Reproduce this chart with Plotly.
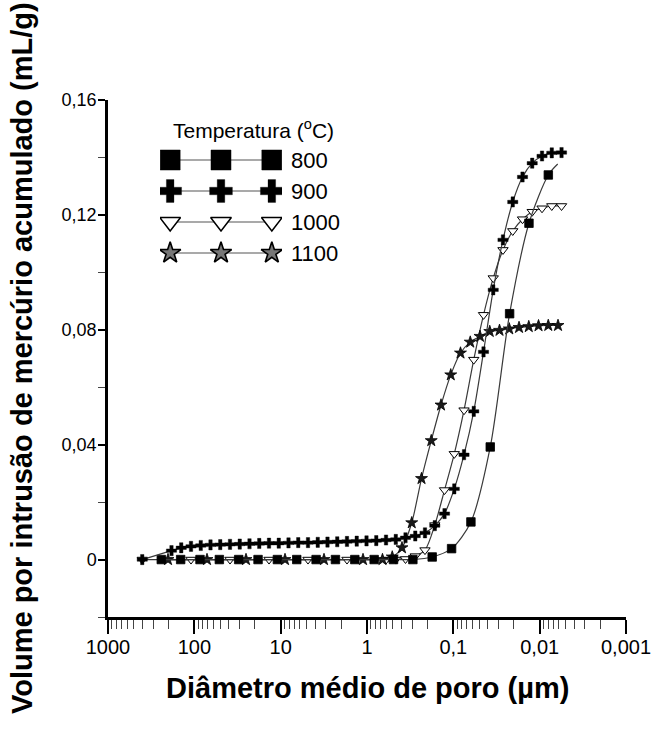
import plotly.graph_objects as go

# ---- data: mean pore diameter (µm) vs cumulative mercury intrusion volume (mL/g)
d800 = [241.4, 144.0, 85.97, 51.31, 30.62, 18.28, 10.91, 6.511, 3.886, 2.320, 1.384,
        0.8262, 0.4931, 0.2943, 0.1757, 0.1048, 0.06257, 0.03735, 0.02229, 0.01330,
        0.00794, 0.00618]
v800 = [0, 0, 0, 0, 0, 0, 0, 0, 0, 0, 0, 0, 0, 0, 0.0009, 0.0038, 0.0131, 0.0392,
        0.0856, 0.1171, 0.1339, 0.1377]

d900 = [401.1, 183.9, 141.8, 109.3, 84.27, 64.98, 50.10, 38.62, 29.78, 22.96, 17.70,
        13.65, 10.52, 8.113, 6.256, 4.824, 3.719, 2.868, 2.211, 1.705, 1.315, 1.013,
        0.781, 0.602, 0.464, 0.358, 0.276, 0.213, 0.164, 0.1265, 0.0975, 0.0752,
        0.0580, 0.0447, 0.0345, 0.0266, 0.0205, 0.0158, 0.0122, 0.00939, 0.00724,
        0.00558]
v900 = [0, 0.0031, 0.0041, 0.0046, 0.0049, 0.0051, 0.0052, 0.0053, 0.0054, 0.0055,
        0.0056, 0.0057, 0.0057, 0.0058, 0.0059, 0.0059, 0.0060, 0.0061, 0.0062, 0.0063,
        0.0064, 0.0065, 0.0066, 0.0068, 0.0070, 0.0076, 0.0082, 0.0093, 0.0118, 0.0160,
        0.0246, 0.0365, 0.0516, 0.0723, 0.0939, 0.1113, 0.1245, 0.1332, 0.1380, 0.1405,
        0.1416, 0.1417]

d1000 = [401.1, 109.3, 38.62, 13.65, 4.824, 1.705, 0.602, 0.464, 0.358, 0.276, 0.213,
         0.164, 0.1265, 0.0975, 0.0752, 0.0580, 0.0447, 0.0345, 0.0266, 0.0205, 0.0158,
         0.0122, 0.00939, 0.00724, 0.00558]
v1000 = [0, 0, 0, 0, 0, 0, 0, 0, 0.0002, 0.0012, 0.0033, 0.0120, 0.0242, 0.0368, 0.0520,
         0.0696, 0.0852, 0.0980, 0.1078, 0.1144, 0.1185, 0.1211, 0.1223, 0.1231, 0.1231]

d1100 = [201.8, 71.33, 25.20, 8.905, 3.148, 1.112, 0.6617, 0.5101, 0.3933, 0.3032,
         0.2337, 0.1802, 0.1389, 0.1071, 0.08262, 0.06369, 0.04910, 0.03785, 0.02918,
         0.02250, 0.01734, 0.01337, 0.01031, 0.00795, 0.00613]
v1100 = [0, 0, 0, 0, 0, 0, 0, 0.0009, 0.0041, 0.0128, 0.0282, 0.0414, 0.0538, 0.0643,
         0.0719, 0.0757, 0.0777, 0.0794, 0.0798, 0.0803, 0.0808, 0.0811, 0.0814, 0.0815,
         0.0815]

series_names = ["800", "900", "1000", "1100"]
x_tickvals = [1000, 100, 10, 1, 0.1, 0.01, 0.001]
x_ticktext = ["1000", "100", "10", "1", "0,1", "0,01", "0,001"]
y_tickvals = [0, 0.04, 0.08, 0.12, 0.16]
y_ticktext = ["0", "0,04", "0,08", "0,12", "0,16"]
legend_title = "Temperatura (<sup>o</sup>C)"
x_title = "Diâmetro médio de poro (µm)"
y_title = "Volume por intrusão de mercúrio acumulado (mL/g)"

FONT = "Liberation Sans, Arial, sans-serif"
LINE = dict(color="#3a3a3a", width=1.2, shape="spline", smoothing=0.8)

styles = {
    "800": dict(symbol="square", size=8.5, color="black", line=dict(color="black", width=0.8)),
    "900": dict(symbol="cross", size=8.5, color="black", line=dict(color="black", width=0.4)),
    "1000": dict(symbol="triangle-down", size=9, color="white", line=dict(color="black", width=1)),
    "1100": dict(symbol="star", size=9, color="#1a1a1a", line=dict(color="black", width=0.8)),
}
leg_styles = {
    "800": dict(symbol="square", size=20, color="black", line=dict(color="black", width=0.5)),
    "900": dict(symbol="cross", size=19, color="black", line=dict(color="black", width=0.3)),
    "1000": dict(symbol="triangle-down", size=18, color="white", line=dict(color="black", width=1.5)),
    "1100": dict(symbol="star", size=16, color="#777", line=dict(color="black", width=1.6)),
}

data = {"800": (d800, v800), "900": (d900, v900), "1000": (d1000, v1000), "1100": (d1100, v1100)}

fig = go.Figure()
for name in ["1000", "1100", "800", "900"]:
    xs, ys = data[name]
    if name == "800":
        # the fitted curve runs one point past the last plotted marker
        fig.add_trace(go.Scatter(x=xs, y=ys, mode="lines", line=LINE, showlegend=False,
                                 name=name, hoverinfo="skip"))
        fig.add_trace(go.Scatter(x=xs[:-1], y=ys[:-1], mode="markers", marker=styles[name],
                                 showlegend=False, name=name))
    else:
        fig.add_trace(go.Scatter(x=xs, y=ys, mode="lines+markers", line=LINE,
                                 marker=styles[name], showlegend=False, name=name))

# custom legend (three markers per entry) in an inset axis
for i, name in enumerate(series_names):
    fig.add_trace(go.Scatter(x=[0, 1, 2], y=[i, i, i], mode="lines+markers",
                             line=dict(color="#555", width=1.2), marker=leg_styles[name],
                             xaxis="x2", yaxis="y2", showlegend=False, hoverinfo="skip"))

W, H = 652, 729
L, R, T, B = 108, 26, 100, 112
pw, ph = W - L - R, H - T - B


def px(x):
    return (x - L) / pw


def py(y):
    return (H - B - y) / ph


annotations = [
    dict(text=legend_title, x=px(253), y=py(129), xref="paper", yref="paper",
         xanchor="center", yanchor="middle", showarrow=False,
         font=dict(size=21, family=FONT, color="black")),
    dict(text="<b>" + x_title + "</b>", x=0.5, y=py(688), xref="paper", yref="paper",
         xanchor="center", yanchor="middle", showarrow=False,
         font=dict(size=29, family=FONT, color="black")),
    dict(text="<b>" + y_title + "</b>", x=px(22), y=py(358), xref="paper", yref="paper",
         xanchor="center", yanchor="middle", textangle=-90, showarrow=False,
         font=dict(size=29, family=FONT, color="black")),
]
for i, name in enumerate(series_names):
    annotations.append(dict(text=name, x=px(289), y=i, xref="paper", yref="y2",
                            xanchor="left", yanchor="middle", showarrow=False,
                            font=dict(size=22, family=FONT, color="black")))

minor_x = [m * 10.0 ** e for e in range(-3, 3) for m in range(2, 10)]

fig.update_layout(
    width=W, height=H, margin=dict(l=L, r=R, t=T, b=B, autoexpand=False),
    paper_bgcolor="white", plot_bgcolor="white",
    font=dict(family=FONT, color="black"),
    xaxis=dict(type="log", range=[3, -3], showline=True, linecolor="black", linewidth=2.5,
               automargin=False,
               ticks="outside", ticklen=14, tickwidth=1.5, tickcolor="black",
               tickmode="array", tickvals=x_tickvals, ticktext=x_ticktext,
               ticklabelstandoff=-4,
               tickfont=dict(size=20, family=FONT), showgrid=False, zeroline=False,
               minor=dict(tickmode="array", tickvals=minor_x, ticks="outside", ticklen=9,
                          tickwidth=1.2, tickcolor="#444", showgrid=False)),
    yaxis=dict(range=[-0.02, 0.16], showline=True, linecolor="black", linewidth=2.5,
               automargin=False,
               ticks="outside", ticklen=7, tickwidth=1.5, tickcolor="black",
               tickmode="array", tickvals=y_tickvals, ticktext=y_ticktext,
               ticklabelstandoff=-2,
               tickfont=dict(size=18, family=FONT), showgrid=False, zeroline=False,
               minor=dict(tickmode="array", tickvals=[-0.02, 0.02, 0.06, 0.10, 0.14],
                          ticks="outside", ticklen=7, tickwidth=1.2, tickcolor="#444",
                          showgrid=False)),
    xaxis2=dict(domain=[px(160), px(282)], range=[-0.2, 2.2], visible=False, anchor="y2",
                fixedrange=True),
    yaxis2=dict(domain=[py(268.5), py(144.5)], range=[3.5, -0.5], visible=False, anchor="x2",
                fixedrange=True),
    annotations=annotations,
)

fig.write_html("out.html")
